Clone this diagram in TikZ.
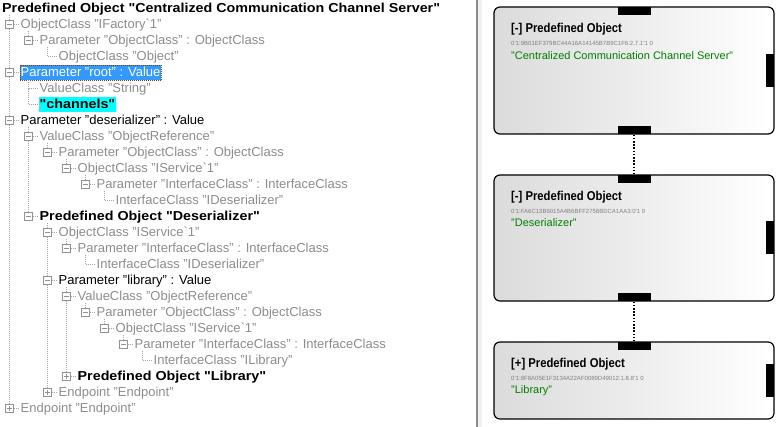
\documentclass[tikz,border=0pt]{standalone}
\usepackage{fontspec}
\setmainfont{Liberation Sans}
\newfontfamily\treeboldfont{Liberation Sans}[FakeStretch=1.1]
\newfontfamily\titlefont{Liberation Sans}[FakeStretch=0.88]
\usepackage{xcolor}
\definecolor{treegray}{RGB}{140,140,140}
\definecolor{linegray}{RGB}{165,165,165}
\definecolor{boxgray}{RGB}{145,145,145}
\definecolor{selblue}{RGB}{51,153,255}
\definecolor{chancyan}{RGB}{0,255,255}
\definecolor{objgreen}{RGB}{0,128,0}
\definecolor{panelgray}{RGB}{240,240,240}

\begin{document}
\begin{tikzpicture}[x=1pt, y=-1pt,
    tree/.style={anchor=west, inner sep=1pt, text height=9pt, text depth=1pt, font=\fontsize{13}{15}\selectfont, text=treegray},
    treedark/.style={tree, text=black},
    treebold/.style={tree, text=black, font=\treeboldfont\bfseries\fontsize{13}{15}\selectfont},
    treesel/.style={tree, text=white, fill=selblue, minimum height=15pt, draw=orange!50!black, dash pattern=on 1pt off 1pt},
    treehit/.style={treebold, fill=chancyan, minimum height=15pt},
    expbox/.style={draw=boxgray, fill=white, inner sep=0pt, minimum size=8pt},
    expminus/.style={expbox, path picture={\draw[line width=0.8pt] ([xshift=-2.5pt]path picture bounding box.center) -- ([xshift=2.5pt]path picture bounding box.center);}},
    expplus/.style={expbox, path picture={\draw[line width=0.8pt] ([xshift=-2.5pt]path picture bounding box.center) -- ([xshift=2.5pt]path picture bounding box.center) ([yshift=-2.5pt]path picture bounding box.center) -- ([yshift=2.5pt]path picture bounding box.center);}},
    leafpt/.style={inner sep=0pt, minimum size=0pt},
    treeline/.style={draw=linegray, line width=1pt, dash pattern=on 1pt off 1pt},
    objbox/.style={draw=black, line width=1.2pt, rounded corners=6pt, left color=black!14, right color=white, minimum width=280pt},
    porth/.style={fill=black, inner sep=0pt, minimum width=33pt, minimum height=8pt},
    portv/.style={fill=black, inner sep=0pt, minimum width=8pt, minimum height=33pt},
    objtitle/.style={anchor=west, inner sep=1pt, font=\titlefont\bfseries\fontsize{12.8}{14}\selectfont},
    objid/.style={anchor=west, inner sep=1pt, font=\fontsize{6}{7}\selectfont, text=black!50},
    objname/.style={anchor=west, inner sep=1pt, font=\fontsize{11}{13}\selectfont, text=objgreen},
    objlink/.style={draw=black, line width=1.6pt, dash pattern=on 1.6pt off 1.6pt}]
\useasboundingbox (0,0) rectangle (783,427);

% tree view
\node[treebold, anchor=west] (t1) at (1,8.5) {Predefined Object "Centralized Communication Channel Server"};

\node[expminus] (j2) at (9.5,24.5) {};
\node[tree] (t2) at (19.5,24.5) {ObjectClass "IFactory\textasciigrave 1"};
\node[expminus] (j3) at (28.5,40.5) {};
\node[tree] (t3) at (38.5,40.5) {Parameter "ObjectClass" : ObjectClass};
\node[leafpt] (j4) at (47.5,56.5) {};
\node[tree] (t4) at (57.5,56.5) {ObjectClass "Object"};

\node[expminus] (j5) at (9.5,72.5) {};
\node[treesel] (t5) at (19.5,72.5) {Parameter "root" : Value};
\node[leafpt] (j6) at (28.5,88.5) {};
\node[tree] (t6) at (38.5,88.5) {ValueClass "String"};
\node[leafpt] (j7) at (28.5,104.5) {};
\node[treehit] (t7) at (38.5,104.5) {"channels"};

\node[expminus] (j8) at (9.5,120.5) {};
\node[treedark] (t8) at (19.5,120.5) {Parameter "deserializer" : Value};
\node[expminus] (j9) at (28.5,136.5) {};
\node[tree] (t9) at (38.5,136.5) {ValueClass "ObjectReference"};
\node[expminus] (j10) at (47.5,152.5) {};
\node[tree] (t10) at (57.5,152.5) {Parameter "ObjectClass" : ObjectClass};
\node[expminus] (j11) at (66.5,168.5) {};
\node[tree] (t11) at (76.5,168.5) {ObjectClass "IService\textasciigrave 1"};
\node[expminus] (j12) at (85.5,184.5) {};
\node[tree] (t12) at (95.5,184.5) {Parameter "InterfaceClass" : InterfaceClass};
\node[leafpt] (j13) at (104.5,200.5) {};
\node[tree] (t13) at (114.5,200.5) {InterfaceClass "IDeserializer"};

\node[expminus] (j14) at (28.5,216.5) {};
\node[treebold] (t14) at (38.5,216.5) {Predefined Object "Deserializer"};
\node[expminus] (j15) at (47.5,232.5) {};
\node[tree] (t15) at (57.5,232.5) {ObjectClass "IService\textasciigrave 1"};
\node[expminus] (j16) at (66.5,248.5) {};
\node[tree] (t16) at (76.5,248.5) {Parameter "InterfaceClass" : InterfaceClass};
\node[leafpt] (j17) at (85.5,264.5) {};
\node[tree] (t17) at (95.5,264.5) {InterfaceClass "IDeserializer"};

\node[expminus] (j18) at (47.5,280.5) {};
\node[treedark] (t18) at (57.5,280.5) {Parameter "library" : Value};
\node[expminus] (j19) at (66.5,296.5) {};
\node[tree] (t19) at (76.5,296.5) {ValueClass "ObjectReference"};
\node[expminus] (j20) at (85.5,312.5) {};
\node[tree] (t20) at (95.5,312.5) {Parameter "ObjectClass" : ObjectClass};
\node[expminus] (j21) at (104.5,328.5) {};
\node[tree] (t21) at (114.5,328.5) {ObjectClass "IService\textasciigrave 1"};
\node[expminus] (j22) at (123.5,344.5) {};
\node[tree] (t22) at (133.5,344.5) {Parameter "InterfaceClass" : InterfaceClass};
\node[leafpt] (j23) at (142.5,360.5) {};
\node[tree] (t23) at (152.5,360.5) {InterfaceClass "ILibrary"};
\node[expplus] (j24) at (66.5,376.5) {};
\node[treebold] (t24) at (76.5,376.5) {Predefined Object "Library"};

\node[expplus] (j25) at (47.5,392.5) {};
\node[tree] (t25) at (57.5,392.5) {Endpoint "Endpoint"};
\node[expplus] (j26) at (9.5,408.5) {};
\node[tree] (t26) at (19.5,408.5) {Endpoint "Endpoint"};

% tree lines
\foreach \k in {2,...,26}
    \draw[treeline] (j\k) -- (t\k);
\draw[treeline] (j2 |- t1.south) -- (j2);
\draw[treeline] (j2) -- (j5);
\draw[treeline] (j5) -- (j8);
\draw[treeline] (j8) -- (j26);
\draw[treeline] (j3 |- t2.south) -- (j3);
\draw[treeline] (j4 |- t3.south) -- (j4);
\draw[treeline] (j6 |- t5.south) -- (j6);
\draw[treeline] (j6) -- (j7);
\draw[treeline] (j9 |- t8.south) -- (j9);
\draw[treeline] (j9) -- (j14);
\draw[treeline] (j10 |- t9.south) -- (j10);
\draw[treeline] (j11 |- t10.south) -- (j11);
\draw[treeline] (j12 |- t11.south) -- (j12);
\draw[treeline] (j13 |- t12.south) -- (j13);
\draw[treeline] (j15 |- t14.south) -- (j15);
\draw[treeline] (j15) -- (j18);
\draw[treeline] (j18) -- (j25);
\draw[treeline] (j16 |- t15.south) -- (j16);
\draw[treeline] (j17 |- t16.south) -- (j17);
\draw[treeline] (j19 |- t18.south) -- (j19);
\draw[treeline] (j19) -- (j24);
\draw[treeline] (j20 |- t19.south) -- (j20);
\draw[treeline] (j21 |- t20.south) -- (j21);
\draw[treeline] (j22 |- t21.south) -- (j22);
\draw[treeline] (j23 |- t22.south) -- (j23);

% splitter and diagram panel
\fill[panelgray] (478,0) rectangle (482,427);
\draw[draw=black!45, line width=1.2pt] (477,0) -- (477,427);

\node[objbox, minimum height=127pt] (o1) at (634,70.5) {};
\node[porth, anchor=north] (o1n) at (o1.north) {};
\node[porth, anchor=south] (o1s) at (o1.south) {};
\node[portv, anchor=east] (o1e) at (o1.east) {};
\node[objtitle] (h1) at (510,29) {[-] Predefined Object};
\node[objid] (d1) at (510,43) {0'1:9B01EF379BC44A16A14145B7B9C1F6:2.7.1'1 0};
\node[objname] (n1) at (510,56) {"Centralized Communication Channel Server"};

\node[objbox, minimum height=126pt] (o2) at (634,238) {};
\node[porth, anchor=north] (o2n) at (o2.north) {};
\node[porth, anchor=south] (o2s) at (o2.south) {};
\node[portv, anchor=east] (o2e) at (o2.east) {};
\node[objtitle] (h2) at (510,197) {[-] Predefined Object};
\node[objid] (d2) at (510,211) {0'1:FA6C13B6015A4B6BFF2758BDCA1AA3:0'1 0};
\node[objname] (n2) at (510,223) {"Deserializer"};

\node[objbox, minimum height=77pt] (o3) at (634,380.5) {};
\node[porth, anchor=north] (o3n) at (o3.north) {};
\node[portv, anchor=east] (o3e) at (o3.east) {};
\node[objtitle] (h3) at (510,364) {[+] Predefined Object};
\node[objid] (d3) at (510,378) {0'1:8F8A05E1F3134A22AF0089D49012:1.8.8'1 0};
\node[objname] (n3) at (510,391) {"Library"};

\draw[objlink] (o1s) -- (o2n);
\draw[objlink] (o2s) -- (o3n);
\end{tikzpicture}
\end{document}
